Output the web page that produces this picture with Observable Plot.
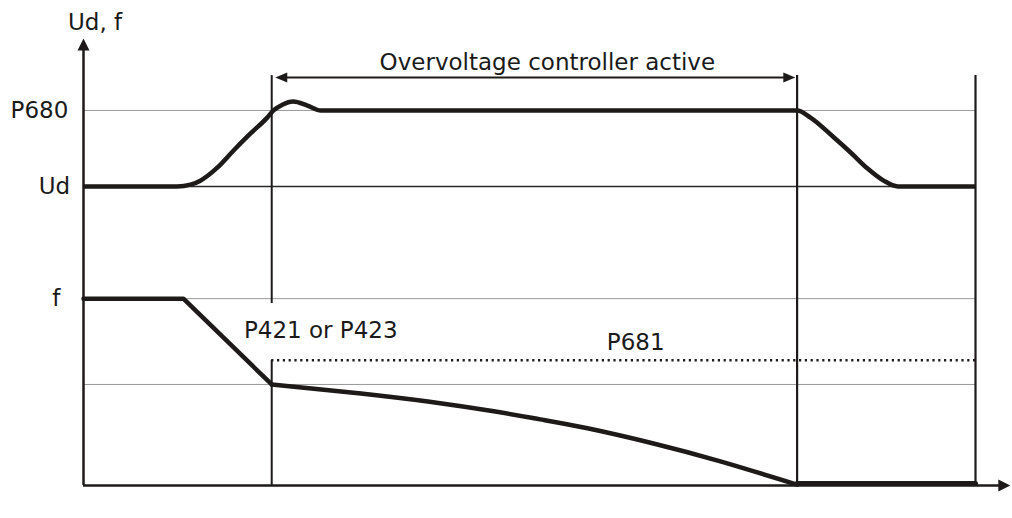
<!DOCTYPE html>
<html>
<head>
<meta charset="utf-8">
<script src="https://cdn.jsdelivr.net/npm/d3@7"></script>
<script src="https://cdn.jsdelivr.net/npm/@observablehq/plot@0.6"></script>
<style>
  html, body { margin: 0; padding: 0; background: #fff; }
  #chart svg { display: block; }
</style>
</head>
<body>
<div id="chart"></div>
<script>
// ---- Data (time units 0..100, level units 0..100) ----
const levelNames = ["P680", "Ud", "f"];
const levelValues = [83.9, 66.9, 41.8];
const fLowLevel = 22.6;
const p681Level = 28.0;

const eventTimes = [21.1, 80.0, 100];   // controller on, controller off, end
const eventTop = 91.7;
const gapBottom = 28.0, gapTop = 40.7;  // gap in first event line around label

const udT = [0, 10.5, 12.0, 13.1, 15.0, 16.8, 18.7, 20.6, 21.3, 22.3, 23.5, 25.1, 26.6, 27.1, 80.0, 81.5, 84.1, 86.0, 87.9, 89.7, 91.3, 100];
const udV = [66.9, 66.9, 67.3, 68.2, 71.1, 74.9, 78.7, 82.3, 83.9, 85.2, 85.9, 85.0, 83.9, 83.9, 83.9, 82.3, 77.9, 74.5, 70.9, 68.2, 66.9, 66.9];

const fRampT = [0, 11.2, 21.1];
const fRampV = [41.8, 41.8, 22.6];
const fDecayT = [21.1, 31.1, 38.6, 46.0, 51.2, 56.5, 63.9, 71.4, 80.0];
const fDecayV = [22.6, 20.6, 18.8, 16.6, 14.8, 12.8, 9.4, 5.4, 0.2];
const fStopT = [80.0, 100];
const fStopV = [0.45, 0.45];

const spanArrow = {x1: 21.5, x2: 79.8, y: 91.3};
const axisEnds = {xMax: 103.9, yMax: 100};

const labels = [
  {text: "Ud, f", x: 1.3, y: 103.6, anchor: "middle"},
  {text: "P680", x: -1.7, y: 83.9, anchor: "end"},
  {text: "Ud", x: -1.5, y: 66.9, anchor: "end"},
  {text: "f", x: -2.6, y: 41.8, anchor: "end"},
  {text: "Overvoltage controller active", x: 52.0, y: 94.6, anchor: "middle"},
  {text: "P421 or P423", x: 26.6, y: 34.7, anchor: "middle"},
  {text: "P681", x: 61.9, y: 32.0, anchor: "middle"}
];

// ---- Build tables ----
const ud = udT.map((t, i) => ({t, v: udV[i]}));
const fRamp = fRampT.map((t, i) => ({t, v: fRampV[i]}));
const fDecay = fDecayT.map((t, i) => ({t, v: fDecayV[i]}));
const fStop = fStopT.map((t, i) => ({t, v: fStopV[i]}));

// filled arrowhead: tip at the origin, pointing up
function makeHead(L, W) {
  return {
    draw(context) {
      context.moveTo(0, 0);
      context.lineTo(W / 2, L);
      context.lineTo(-W / 2, L);
      context.closePath();
    }
  };
}
const axisHead = makeHead(12, 12);
const spanHead = makeHead(12, 10);

const ink = "#1d1a19";
const font = "DejaVu Sans";

const chart = Plot.plot({
  width: 1012,
  height: 518,
  x: {domain: [0, 100], range: [83, 975], axis: null},
  y: {domain: [0, 100], range: [485, 38], axis: null},
  style: {fontFamily: font, background: "#fff", overflow: "visible"},
  marks: [
    // thin gridlines
    Plot.ruleY([levelValues[0], levelValues[2], fLowLevel], {x1: 0, x2: 100, stroke: "#9a9a9a", strokeWidth: 1}),
    Plot.ruleY([levelValues[1]], {x1: 0, x2: 100, stroke: "#2a2a2a", strokeWidth: 1.5}),
    // event verticals
    Plot.ruleX([eventTimes[0]], {y1: gapTop, y2: eventTop, stroke: ink, strokeWidth: 2}),
    Plot.ruleX([eventTimes[0]], {y1: 0, y2: gapBottom, stroke: ink, strokeWidth: 2}),
    Plot.ruleX(eventTimes.slice(1), {y1: 0, y2: eventTop, stroke: ink, strokeWidth: 2.2}),
    // P681 dotted line
    Plot.ruleY([p681Level], {x1: eventTimes[0], x2: 100, stroke: ink, strokeWidth: 2.5, strokeDasharray: "2.2,3.6"}),
    // axes
    Plot.ruleX([0], {y1: 0, y2: axisEnds.yMax - 2, stroke: ink, strokeWidth: 2.5}),
    Plot.ruleY([0], {x1: 0, x2: axisEnds.xMax - 1, stroke: ink, strokeWidth: 2.5}),
    Plot.dot([{x: 0, y: axisEnds.yMax, rot: 0}, {x: axisEnds.xMax, y: 0, rot: 90}],
      {x: "x", y: "y", rotate: "rot", r: 6, symbol: axisHead, fill: ink, stroke: "none"}),
    // span arrow
    Plot.ruleY([spanArrow.y], {x1: spanArrow.x1 + 0.5, x2: spanArrow.x2 - 0.5, stroke: ink, strokeWidth: 2}),
    Plot.dot([{x: spanArrow.x1, y: spanArrow.y, rot: -90}, {x: spanArrow.x2, y: spanArrow.y, rot: 90}],
      {x: "x", y: "y", rotate: "rot", r: 6, symbol: spanHead, fill: ink, stroke: "none"}),
    // curves
    Plot.line(ud, {x: "t", y: "v", curve: "monotone-x", stroke: ink, strokeWidth: 4.5, strokeLinejoin: "round", strokeLinecap: "butt"}),
    Plot.line(fRamp, {x: "t", y: "v", curve: "linear", stroke: ink, strokeWidth: 4.5, strokeLinejoin: "miter"}),
    Plot.line(fDecay, {x: "t", y: "v", curve: "natural", stroke: ink, strokeWidth: 4.5, strokeLinejoin: "round"}),
    Plot.line(fStop, {x: "t", y: "v", curve: "linear", stroke: ink, strokeWidth: 5}),
    // labels
    Plot.text(labels.filter(d => d.anchor === "middle"), {x: "x", y: "y", text: "text", textAnchor: "middle", fontSize: 23, fill: "#1a1a1a", fontFamily: font}),
    Plot.text(labels.filter(d => d.anchor === "end"), {x: "x", y: "y", text: "text", textAnchor: "end", fontSize: 23, fill: "#1a1a1a", fontFamily: font})
  ]
});

document.getElementById("chart").appendChild(chart);
</script>
</body>
</html>
